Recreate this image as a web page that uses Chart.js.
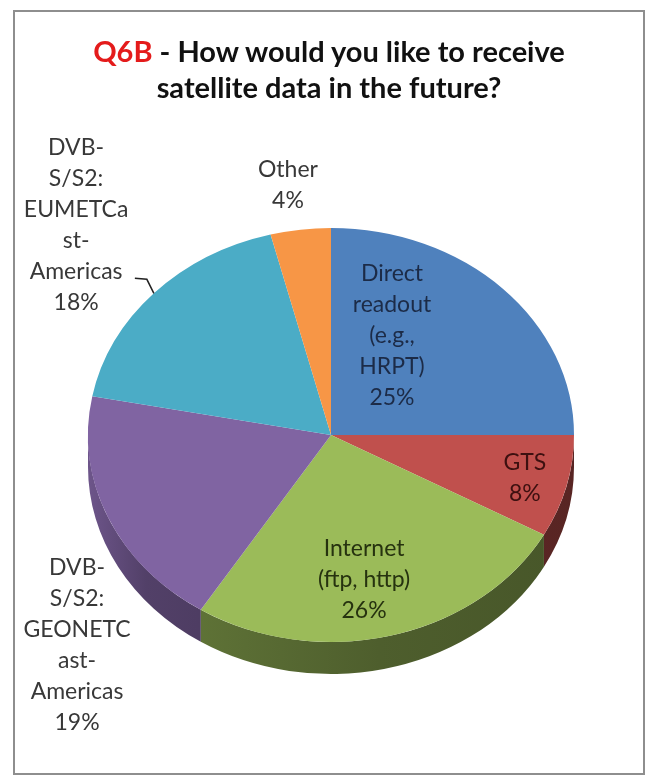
<!DOCTYPE html>
<html>
<head>
<meta charset="utf-8">
<script src="https://cdn.jsdelivr.net/npm/chart.js@4.4.1/dist/chart.umd.min.js"></script>
<style>
  html, body { margin: 0; padding: 0; background: #fff; }
  #wrap { position: relative; width: 651px; height: 782px; }
  #frame { position: absolute; left: 13px; top: 10px; width: 632px; height: 765px; border: 2px solid #8e8e8e; box-sizing: border-box; }
  #title { position: absolute; left: 13px; width: 632px; top: 33px; text-align: center;
           font: bold 29px Lato, sans-serif; line-height: 36px; color: #111; }
  #title .q { color: #e41b1b; }
  canvas { position: absolute; left: 0; top: 0; }
</style>
</head>
<body>
<div id="wrap">
  <div id="frame"></div>
  <canvas id="chart" width="651" height="782"></canvas>
  <div id="title"><span class="q">Q6B</span> - How would you like to receive<br>satellite data in the future?</div>
</div>
<script>
// categories, clockwise from 12 o'clock
const categories = [
  'Direct readout (e.g., HRPT)',
  'GTS',
  'Internet (ftp, http)',
  'DVB-S/S2: GEONETCast-Americas',
  'DVB-S/S2: EUMETCast-Americas',
  'Other'
];
// how Excel wrapped each label
const labelLines = [
  ['Direct', 'readout', '(e.g.,', 'HRPT)'],
  ['GTS'],
  ['Internet', '(ftp, http)'],
  ['DVB-', 'S/S2:', 'GEONETC', 'ast-', 'Americas'],
  ['DVB-', 'S/S2:', 'EUMETCa', 'st-', 'Americas'],
  ['Other']
];
const values = [25, 8, 26, 19, 18, 4];

const colors = ['#4f81bd', '#c0504d', '#9bbb59', '#8064a2', '#4bacc6', '#f79646'];
const labelColors = ['#1c2b47', '#3d1010', '#26320f', '#383838', '#383838', '#383838'];
// label block centre, in units of the ellipse radii from the pie centre
const labelAnchors = [[0.251, -0.478], [0.798, 0.208], [0.136, 0.700], [-1.045, 1.014], [-1.049, -1.014], [-0.177, -1.208]];

const tilt = 207 / 243;   // vertical squash of the top face
const depth = 32;         // pie thickness, px
const lineH = 31;

function shade(hex, f) {
  const n = parseInt(hex.slice(1), 16);
  const r = Math.round(((n >> 16) & 255) * f);
  const g = Math.round(((n >> 8) & 255) * f);
  const b = Math.round((n & 255) * f);
  return `rgb(${r},${g},${b})`;
}

const pie3d = {
  id: 'pie3d',
  beforeDatasetsDraw(chart) {
    const ctx = chart.ctx;
    const arcs = chart.getDatasetMeta(0).data;
    const { x, y } = arcs[0];
    ctx.save();
    ctx.translate(x, y);
    ctx.scale(1, tilt);
    ctx.translate(-x, -y);
    // side wall, front half only
    const d = depth / tilt;
    arcs.forEach((arc, i) => {
      const a0 = Math.max(arc.startAngle, 0);
      const a1 = Math.min(arc.endAngle, Math.PI);
      if (a1 <= a0) return;
      const r = arc.outerRadius;
      const g = ctx.createLinearGradient(x - r, 0, x + r, 0);
      g.addColorStop(0, shade(colors[i], 0.85));
      g.addColorStop(0.12, shade(colors[i], 0.64));
      g.addColorStop(0.6, shade(colors[i], 0.5));
      g.addColorStop(1, shade(colors[i], 0.46));
      ctx.beginPath();
      ctx.arc(x, y, r, a0, a1);
      ctx.arc(x, y + d, r, a1, a0, true);
      ctx.closePath();
      ctx.fillStyle = g;
      ctx.fill();
    });
  },
  afterDatasetsDraw(chart) {
    const ctx = chart.ctx;
    ctx.restore();
    const arcs = chart.getDatasetMeta(0).data;
    const { x, y } = arcs[0];
    const rx = arcs[0].outerRadius, ry = rx * tilt;

    ctx.save();
    ctx.font = '23px Lato, sans-serif';
    ctx.textAlign = 'center';
    ctx.textBaseline = 'middle';
    arcs.forEach((arc, i) => {
      const lines = labelLines[i].concat([values[i] + '%']);
      const cx = x + labelAnchors[i][0] * rx;
      const cy = y + labelAnchors[i][1] * ry;
      const top = cy - (lines.length - 1) * lineH / 2;
      ctx.fillStyle = labelColors[i];
      lines.forEach((t, k) => ctx.fillText(t, cx, top + k * lineH));
    });

    // leader line for the EUMETCast label
    const a = arcs[4];
    const mid = (a.startAngle + a.endAngle) / 2;
    const px = x + rx * Math.cos(mid), py = y + ry * Math.sin(mid);
    ctx.strokeStyle = '#222';
    ctx.lineWidth = 1.5;
    ctx.beginPath();
    ctx.moveTo(px, py);
    ctx.lineTo(px - 7, py - 14);
    ctx.lineTo(px - 19, py - 15);
    ctx.stroke();
    ctx.restore();
  }
};

new Chart(document.getElementById('chart'), {
  type: 'pie',
  data: {
    labels: categories,
    datasets: [{
      data: values,
      backgroundColor: colors,
      borderWidth: 0,
      hoverOffset: 0,
      clip: false
    }]
  },
  options: {
    responsive: false,
    animation: false,
    events: [],
    radius: 243,
    layout: { padding: { left: 88, right: 77, top: 192, bottom: 104 } },
    plugins: {
      legend: { display: false },
      title: { display: false },
      tooltip: { enabled: false }
    }
  },
  plugins: [pie3d]
});
</script>
</body>
</html>
